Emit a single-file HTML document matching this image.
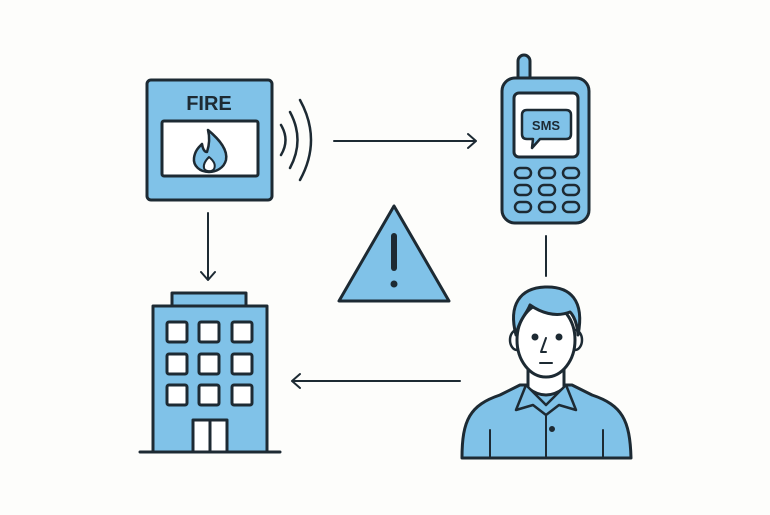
<!DOCTYPE html>
<html><head><style>body{margin:0;background:#fdfdfb}svg{display:block}</style></head><body>
<svg width="770" height="515" viewBox="0 0 770 515" xmlns="http://www.w3.org/2000/svg">
<rect width="770" height="515" fill="#fdfdfb"/>
<g stroke="#1d2a33" stroke-width="3" stroke-linejoin="round" stroke-linecap="round">
<!-- fire alarm -->
<rect x="147" y="80" width="125" height="120" rx="4" fill="#80c2e8"/>
<rect x="162" y="121" width="96" height="55" rx="2" fill="#fff"/>
<path d="M208 130 C220 140 228 150 226 160 C224 168 216 172 209 172 C200 172 193 166 194 158 C195 150 200 146 202 144 C203 150 205 152 207 152 C209 146 210 138 208 130 Z" fill="#80c2e8" stroke-width="2.5"/>
<path d="M209 157 C214 161 216 165 214 169 C212 172 205 172 204 168 C203 164 206 160 209 157 Z" fill="#fff" stroke-width="2"/>
<path d="M281 125 Q290 140 281 155" fill="none" stroke-width="2.5"/>
<path d="M290 112 Q305 140 290 168" fill="none" stroke-width="2.5"/>
<path d="M300 100 Q322 140 300 180" fill="none" stroke-width="2.5"/>
<!-- phone -->
<rect x="518" y="55" width="12" height="30" rx="6" fill="#80c2e8"/>
<rect x="502" y="78" width="87" height="145" rx="13" fill="#80c2e8"/>
<rect x="514" y="93" width="64" height="64" rx="5" fill="#fff"/>
<path d="M527 110 H566 Q571 110 571 115 V134 Q571 139 566 139 H540 L532 148 L533 139 H527 Q522 139 522 134 V115 Q522 110 527 110 Z" fill="#80c2e8" stroke-width="2.5"/>
<g fill="#80c2e8" stroke-width="2.5">
<rect x="515" y="168" width="16" height="10" rx="5"/><rect x="539" y="168" width="16" height="10" rx="5"/><rect x="563" y="168" width="16" height="10" rx="5"/>
<rect x="515" y="185" width="16" height="10" rx="5"/><rect x="539" y="185" width="16" height="10" rx="5"/><rect x="563" y="185" width="16" height="10" rx="5"/>
<rect x="515" y="202" width="16" height="10" rx="5"/><rect x="539" y="202" width="16" height="10" rx="5"/><rect x="563" y="202" width="16" height="10" rx="5"/>
</g>
<!-- arrows -->
<g fill="none" stroke-width="2">
<path d="M334 141 H476 M468 134 L476 141 L468 148"/>
<path d="M208 213 V280 M201 272 L208 280 L215 272"/>
<path d="M546 236 V276"/>
<path d="M460 381 H292 M300 374 L292 381 L300 388"/>
</g>
<!-- warning -->
<path d="M394 206 L339 301 H449 Z" fill="#80c2e8" stroke-width="3"/>
<path d="M394 236 V268" stroke-width="6"/>
<circle cx="394" cy="284" r="3.5" fill="#1d2a33" stroke="none"/>
<!-- building -->
<rect x="172" y="293" width="74" height="13" fill="#80c2e8"/>
<rect x="153" y="306" width="114" height="146" fill="#80c2e8"/>
<g fill="#fff">
<rect x="167" y="322" width="20" height="20" rx="2"/><rect x="199" y="322" width="20" height="20" rx="2"/><rect x="232" y="322" width="20" height="20" rx="2"/>
<rect x="167" y="354" width="20" height="20" rx="2"/><rect x="199" y="354" width="20" height="20" rx="2"/><rect x="232" y="354" width="20" height="20" rx="2"/>
<rect x="167" y="385" width="20" height="20" rx="2"/><rect x="199" y="385" width="20" height="20" rx="2"/><rect x="232" y="385" width="20" height="20" rx="2"/>
<rect x="193" y="420" width="34" height="32"/>
</g>
<path d="M210 420 V452"/>
<path d="M140 452 H280"/>
<!-- person -->
<path d="M462 458 C462 420 470 405 500 395 L520 385 L572 385 L592 395 C622 405 630 420 631 458 Z" fill="#80c2e8"/>
<path d="M528 360 V388 Q546 402 564 388 V360 Z" fill="#fff"/>
<path d="M526 385 L516 410 L533 405 L546 415 L559 405 L576 410 L566 385 L546 405 Z" fill="#80c2e8" stroke-width="2.5"/>
<path d="M546 415 V458" stroke-width="2"/>
<circle cx="552" cy="429" r="1.5" fill="#1d2a33"/>
<path d="M490 430 V458 M603 430 V458" stroke-width="2"/>
<ellipse cx="517" cy="340" rx="7" ry="10" fill="#fff" stroke-width="2.5"/>
<ellipse cx="575" cy="340" rx="7" ry="10" fill="#fff" stroke-width="2.5"/>
<ellipse cx="546" cy="340" rx="29" ry="37" fill="#fff"/>
<path d="M516 335 C508 305 520 288 545 287 C570 286 585 300 578 335 C577 318 570 312 570 312 C555 318 540 312 530 305 C526 315 520 318 516 335 Z" fill="#80c2e8"/>
<circle cx="535" cy="337" r="2" fill="#1d2a33"/>
<circle cx="559" cy="337" r="2" fill="#1d2a33"/>
<path d="M546 338 L541 352 L546 352" fill="none" stroke-width="2"/>
<path d="M540 363 H552" stroke-width="2"/>
</g>
<text x="209" y="110" font-family="Liberation Sans, sans-serif" font-weight="bold" font-size="20" fill="#1d2a33" text-anchor="middle">FIRE</text>
<text x="546" y="130" font-family="Liberation Sans, sans-serif" font-weight="bold" font-size="13" fill="#1d2a33" text-anchor="middle">SMS</text>
</svg>
</body></html>
